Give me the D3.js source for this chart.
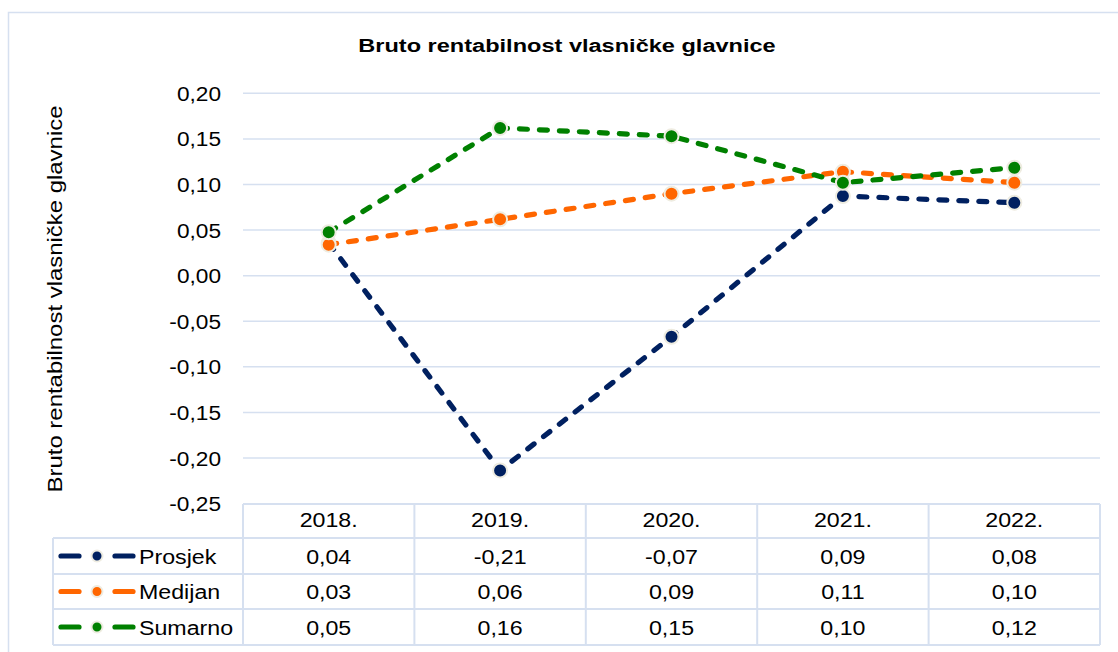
<!DOCTYPE html>
<html>
<head>
<meta charset="utf-8">
<script src="https://cdn.jsdelivr.net/npm/d3@7"></script>
<style>
  body { margin: 0; background: #fff; }
  text { font-family: "Liberation Sans", Arial, sans-serif; fill: #000; }
</style>
</head>
<body>
<svg id="chart" width="1118" height="652"></svg>
<script>
// data
var years = ["2018.", "2019.", "2020.", "2021.", "2022."];
var prosjek = [0.036, -0.2136, -0.067, 0.0873, 0.080];
var medijan = [0.034, 0.0618, 0.0899, 0.114, 0.102];
var sumarno = [0.0476, 0.162, 0.153, 0.102, 0.1184];
var seriesNames = ["Prosjek", "Medijan", "Sumarno"];
var seriesColors = ["#002060", "#FF6600", "#008000"];
var yTicks = [0.20, 0.15, 0.10, 0.05, 0.00, -0.05, -0.10, -0.15, -0.20, -0.25];

var series = [prosjek, medijan, sumarno].map(function (v, i) {
  return { name: seriesNames[i], color: seriesColors[i], values: v };
});

var svg = d3.select("#chart");
var gridColor = "#D6E0F0";
var locale = d3.formatLocale({ decimal: ",", thousands: ".", grouping: [3], currency: ["", ""], minus: "-" });
var fmt = locale.format(".2f");

// stretch helper: reference text is a bit wider than Arial at same height
function place(sel, x, y, k, rot) {
  sel.attr("transform", "translate(" + x + "," + y + ")" + (rot ? " rotate(" + rot + ")" : "") + " scale(" + k + ",1)");
  return sel;
}

// outer border
svg.append("rect")
  .attr("x", 8.5).attr("y", 12.5)
  .attr("width", 1130).attr("height", 660)
  .attr("fill", "none").attr("stroke", gridColor).attr("stroke-width", 1.5);

var left = 243, right = 1100;
var x = d3.scaleBand().domain(years).range([left, right]);
var y = d3.scaleLinear().domain([-0.25, 0.20]).range([503.6, 93.3]);

// title
place(svg.append("text"), 567, 52, 1.24)
  .attr("text-anchor", "middle")
  .style("font-size", "19px").style("font-weight", "bold")
  .text("Bruto rentabilnost vlasničke glavnice");

// y axis title
place(svg.append("text"), 62, 299, 1.14, -90)
  .attr("text-anchor", "middle")
  .style("font-size", "21px")
  .text("Bruto rentabilnost vlasničke glavnice");

// gridlines
svg.append("g").selectAll("line")
  .data(yTicks.filter(function (d) { return d > -0.25; }))
  .join("line")
  .attr("x1", left).attr("x2", right)
  .attr("y1", function (d) { return y(d); })
  .attr("y2", function (d) { return y(d); })
  .attr("stroke", gridColor).attr("stroke-width", 1.5);

// tick labels
svg.append("g").selectAll("text")
  .data(yTicks)
  .join("text")
  .each(function (d) { place(d3.select(this), 221, y(d) + 7.5, 1.08); })
  .attr("text-anchor", "end")
  .style("font-size", "21px")
  .text(function (d) { return fmt(d); });

// series lines and markers
var line = d3.line()
  .x(function (d, i) { return x(years[i]) + x.bandwidth() / 2; })
  .y(function (d) { return y(d); });

series.forEach(function (s) {
  var g = svg.append("g");
  g.append("path")
    .attr("d", line(s.values))
    .attr("fill", "none")
    .attr("stroke", s.color)
    .attr("stroke-width", 5.2)
    .attr("stroke-dasharray", "8,12")
    .attr("stroke-linecap", "round")
    .attr("stroke-linejoin", "round");
  g.selectAll("circle")
    .data(s.values)
    .join("circle")
    .attr("cx", function (d, i) { return x(years[i]) + x.bandwidth() / 2; })
    .attr("cy", function (d) { return y(d); })
    .attr("r", 7)
    .attr("fill", s.color)
    .attr("stroke", "#EEECE1")
    .attr("stroke-width", 2);
});

// data table
var rowTop = [504, 538, 574, 609, 645];
var keyLeft = 53;
var tbl = svg.append("g");

// horizontal rules
tbl.append("line").attr("x1", left).attr("x2", right).attr("y1", rowTop[0]).attr("y2", rowTop[0]);
rowTop.slice(1).forEach(function (r) {
  tbl.append("line").attr("x1", keyLeft).attr("x2", right).attr("y1", r).attr("y2", r);
});
// vertical rules
tbl.append("line").attr("x1", keyLeft).attr("x2", keyLeft).attr("y1", rowTop[1]).attr("y2", rowTop[4]);
years.forEach(function (yr) {
  tbl.append("line").attr("x1", x(yr)).attr("x2", x(yr)).attr("y1", rowTop[0]).attr("y2", rowTop[4]);
});
tbl.append("line").attr("x1", right).attr("x2", right).attr("y1", rowTop[0]).attr("y2", rowTop[4]);
tbl.selectAll("line").attr("stroke", gridColor).attr("stroke-width", 2);

// header
tbl.selectAll("text.year")
  .data(years)
  .join("text")
  .attr("class", "year")
  .each(function (d) { place(d3.select(this), x(d) + x.bandwidth() / 2, 527, 1.16); })
  .attr("text-anchor", "middle")
  .style("font-size", "20px")
  .text(function (d) { return d; });

series.forEach(function (s, r) {
  var mid = (rowTop[r + 1] + rowTop[r + 2]) / 2;
  var key = tbl.append("g");
  [[61, 79], [115, 133]].forEach(function (seg) {
    key.append("line")
      .attr("x1", seg[0]).attr("x2", seg[1])
      .attr("y1", mid).attr("y2", mid)
      .attr("stroke", s.color).attr("stroke-width", 5.2)
      .attr("stroke-linecap", "round");
  });
  key.append("circle")
    .attr("cx", 97).attr("cy", mid).attr("r", 5.5)
    .attr("fill", s.color).attr("stroke", "#EEECE1").attr("stroke-width", 2);
  place(key.append("text"), 139, mid + 7.5, 1.16)
    .style("font-size", "20px")
    .text(s.name);

  tbl.append("g").selectAll("text")
    .data(s.values)
    .join("text")
    .each(function (d, i) { place(d3.select(this), x(years[i]) + x.bandwidth() / 2, mid + 7.5, 1.16); })
    .attr("text-anchor", "middle")
    .style("font-size", "20px")
    .text(function (d) { return fmt(d); });
});
</script>
</body>
</html>
